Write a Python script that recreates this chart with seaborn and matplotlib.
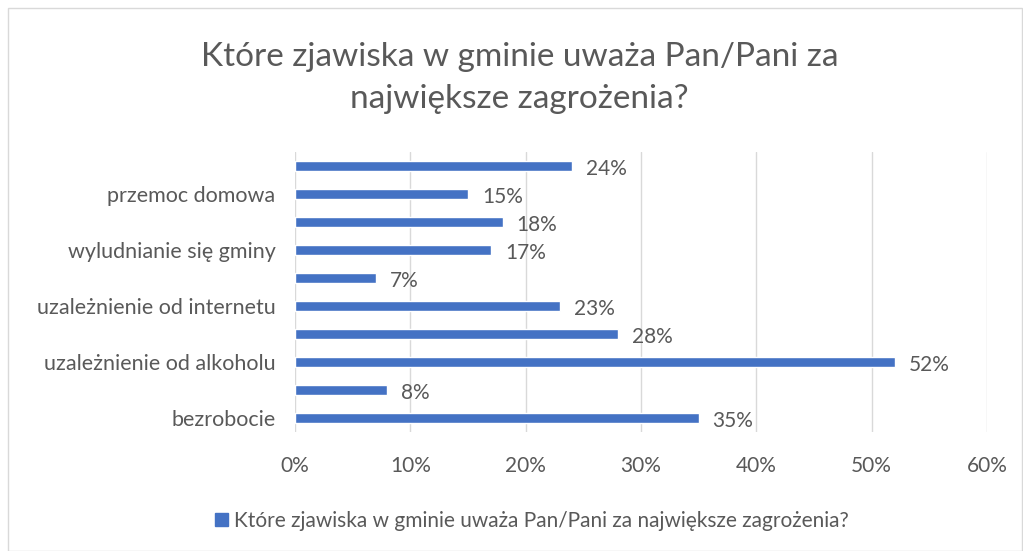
import matplotlib
matplotlib.use("Agg")
import matplotlib.pyplot as plt
import seaborn as sns
import pandas as pd
from matplotlib.patches import Patch, Rectangle

# Data (top to bottom as displayed)
category_ids = ["k10", "k9", "k8", "k7", "k6", "k5", "k4", "k3", "k2", "k1"]
category_labels = ["", "przemoc domowa", "", "wyludnianie się gminy", "",
                   "uzależnienie od internetu", "", "uzależnienie od alkoholu", "",
                   "bezrobocie"]
values = [24, 15, 18, 17, 7, 23, 28, 52, 8, 35]
x_ticks = [0, 10, 20, 30, 40, 50, 60]
title = "Które zjawiska w gminie uważa Pan/Pani za\nnajwiększe zagrożenia?"
series_name = "Które zjawiska w gminie uważa Pan/Pani za największe zagrożenia?"

sns.set_theme(style="white")
plt.rcParams['font.family'] = ['Lato', 'DejaVu Sans']

BLUE = "#4472C4"
TXT = "#595959"
GRID = "#D9D9D9"

df = pd.DataFrame({"cat": category_ids, "val": values})

fig = plt.figure(figsize=(10.23, 5.51), dpi=100)
ax = fig.add_axes([0.2884, 0.216, 0.9648 - 0.2884, 0.724 - 0.216])

sns.barplot(data=df, x="val", y="cat", order=category_ids, color=BLUE,
            width=0.36, saturation=1, ax=ax)

ax.set_xlim(0, 60)
ax.set_ylim(9.5, -0.5)
ax.set_xticks(x_ticks)
ax.set_xticklabels([f"{t}%" for t in x_ticks], fontsize=15, color=TXT)
ax.set_yticks(range(len(category_ids)))
ax.set_yticklabels(category_labels, fontsize=15.5, color=TXT)
ax.tick_params(axis="x", length=0, pad=17)
ax.tick_params(axis="y", length=0, pad=14)
ax.set_xlabel("")
ax.set_ylabel("")
ax.xaxis.grid(True, color=GRID, linewidth=1)
ax.set_axisbelow(True)
for s in ax.spines.values():
    s.set_visible(False)

for i, v in enumerate(values):
    ax.annotate(f"{v}%", xy=(v, i), xytext=(10, -2), textcoords="offset points",
                va="center", ha="left", fontsize=15, color=TXT)

fig.text(0.508, 0.858, title, ha="center", va="center", fontsize=24,
         color=TXT, linespacing=1.5)

fig.legend(handles=[Patch(facecolor=BLUE, edgecolor=BLUE)], labels=[series_name],
           loc="center", bbox_to_anchor=(0.52, 0.055), frameon=False,
           fontsize=15, labelcolor=TXT, handlelength=0.6, handleheight=0.6,
           handletextpad=0.3)

fig.patches.append(Rectangle((8 / 1023, 0), 1 - 8 / 1023 - 0.001, 1 - 8 / 551,
                             transform=fig.transFigure, fill=False,
                             edgecolor=GRID, linewidth=1))

fig.savefig("out.png", dpi=100, facecolor="white")
